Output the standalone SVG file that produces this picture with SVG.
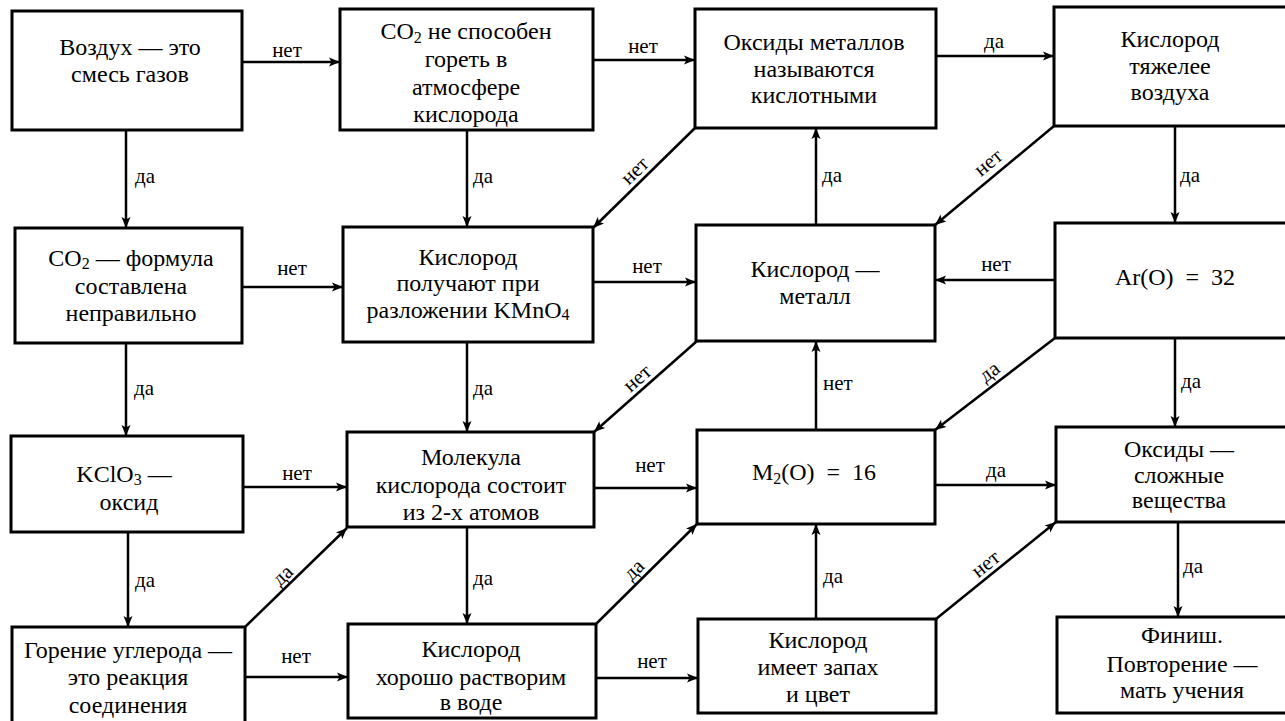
<svg xmlns="http://www.w3.org/2000/svg" width="1285" height="721" viewBox="0 0 1285 721">
<style>
.box{fill:#fff;stroke:#000;stroke-width:3}
.t{font-size:24px;fill:#000;text-anchor:middle}
.lb{font-size:21px;fill:#000}
.lm{text-anchor:middle}
.c{stroke:#000;stroke-width:2.5;fill:none;marker-end:url(#ah)}
.sub{font-size:16px}
</style>
<defs>
<marker id="ah" viewBox="-1 -6 13 12" markerUnits="userSpaceOnUse" markerWidth="13" markerHeight="12" refX="11" refY="0" orient="auto">
<path d="M0,-4.5 L11,0 L0,4.5 L2.5,0 z" fill="#000"/>
</marker>
</defs>
<rect width="1285" height="721" fill="#fff"/>
<g font-family="Liberation Serif, Times New Roman, Times, DejaVu Serif, serif">
<g id="connectors">
<line class="c" x1="242" y1="62" x2="340" y2="62"/>
<line class="c" x1="593" y1="60" x2="695" y2="60"/>
<line class="c" x1="936" y1="56" x2="1054" y2="56"/>
<line class="c" x1="242" y1="287" x2="343" y2="287"/>
<line class="c" x1="593" y1="282" x2="696" y2="282"/>
<line class="c" x1="1055" y1="280" x2="935" y2="280"/>
<line class="c" x1="243" y1="487" x2="347" y2="487"/>
<line class="c" x1="594" y1="488" x2="697" y2="488"/>
<line class="c" x1="935" y1="485" x2="1056" y2="485"/>
<line class="c" x1="245" y1="677" x2="348" y2="677"/>
<line class="c" x1="596" y1="678" x2="698" y2="678"/>

<line class="c" x1="126" y1="130" x2="126" y2="228"/>
<line class="c" x1="467" y1="130" x2="467" y2="227"/>
<line class="c" x1="816" y1="225" x2="816" y2="128"/>
<line class="c" x1="1175" y1="126" x2="1175" y2="223"/>
<line class="c" x1="126" y1="343" x2="126" y2="436"/>
<line class="c" x1="467" y1="342" x2="467" y2="432"/>
<line class="c" x1="816" y1="430" x2="816" y2="341"/>
<line class="c" x1="1175" y1="338" x2="1175" y2="427"/>
<line class="c" x1="128" y1="532" x2="128" y2="627"/>
<line class="c" x1="467" y1="527" x2="467" y2="624"/>
<line class="c" x1="816" y1="619" x2="816" y2="524"/>
<line class="c" x1="1178" y1="522" x2="1178" y2="617"/>

<line class="c" x1="695" y1="128" x2="593" y2="228"/>
<line class="c" x1="1054" y1="126" x2="935" y2="225"/>
<line class="c" x1="697" y1="341" x2="594" y2="432"/>
<line class="c" x1="1055" y1="338" x2="935" y2="430"/>
<line class="c" x1="245" y1="627" x2="347" y2="528"/>
<line class="c" x1="596" y1="624" x2="697" y2="524"/>
<line class="c" x1="936" y1="619" x2="1056" y2="522"/>

<g id="labels">
<text class="lb lm" x="287" y="57">нет</text>
<text class="lb lm" x="643" y="53">нет</text>
<text class="lb lm" x="994" y="48">да</text>
<text class="lb lm" x="292" y="275">нет</text>
<text class="lb lm" x="647" y="273">нет</text>
<text class="lb lm" x="996" y="271">нет</text>
<text class="lb lm" x="297" y="480">нет</text>
<text class="lb lm" x="650" y="472">нет</text>
<text class="lb lm" x="996" y="477">да</text>
<text class="lb lm" x="296" y="663">нет</text>
<text class="lb lm" x="652" y="668">нет</text>

<text class="lb" x="135" y="183">да</text>
<text class="lb" x="473" y="183">да</text>
<text class="lb" x="822" y="182">да</text>
<text class="lb" x="1180" y="182">да</text>
<text class="lb" x="134" y="395">да</text>
<text class="lb" x="473" y="395">да</text>
<text class="lb" x="823" y="390">нет</text>
<text class="lb" x="1181" y="388">да</text>
<text class="lb" x="135" y="587">да</text>
<text class="lb" x="473" y="585">да</text>
<text class="lb" x="823" y="583">да</text>
<text class="lb" x="1183" y="573">да</text>

<text class="lb lm" transform="translate(643,179) rotate(-44.4)" y="-5">нет</text>
<text class="lb lm" transform="translate(997,173) rotate(-39.8)" y="-7">нет</text>
<text class="lb lm" transform="translate(645,387) rotate(-41.5)" y="-5">нет</text>
<text class="lb lm" transform="translate(997,382) rotate(-37.5)" y="-6">да</text>
<text class="lb lm" transform="translate(290,583) rotate(-44.1)" y="-4">да</text>
<text class="lb lm" transform="translate(642,578) rotate(-44.7)" y="-5">да</text>
<text class="lb lm" transform="translate(993,573) rotate(-38.9)" y="-5">нет</text>
</g>
</g>

<g id="n-air">
<rect class="box" x="12" y="11" width="230" height="119"/>
<text class="t" x="130" y="55">Воздух — это</text>
<text class="t" x="130" y="82">смесь газов</text>
</g>
<g id="n-co2-burn">
<rect class="box" x="340" y="9" width="253" height="121"/>
<text class="t" x="466" y="39">CO<tspan class="sub" baseline-shift="-4">2</tspan> не способен</text>
<text class="t" x="466" y="67">гореть в</text>
<text class="t" x="466" y="95">атмосфере</text>
<text class="t" x="466" y="122">кислорода</text>
</g>
<g id="n-metal-oxides">
<rect class="box" x="695" y="9" width="241" height="119"/>
<text class="t" x="814" y="50">Оксиды металлов</text>
<text class="t" x="814" y="77">называются</text>
<text class="t" x="814" y="103">кислотными</text>
</g>
<g id="n-heavier">
<rect class="box" x="1054" y="7" width="240" height="119"/>
<text class="t" x="1170" y="47">Кислород</text>
<text class="t" x="1170" y="74">тяжелее</text>
<text class="t" x="1170" y="100">воздуха</text>
</g>

<g id="n-co2-formula">
<rect class="box" x="15" y="228" width="227" height="115"/>
<text class="t" x="131" y="266">CO<tspan class="sub" baseline-shift="-3">2</tspan> — формула</text>
<text class="t" x="131" y="294">составлена</text>
<text class="t" x="131" y="321">неправильно</text>
</g>
<g id="n-kmno4">
<rect class="box" x="343" y="227" width="250" height="115"/>
<text class="t" x="468" y="265">Кислород</text>
<text class="t" x="468" y="291">получают при</text>
<text class="t" x="468" y="318">разложении KMnO<tspan class="sub" baseline-shift="-2">4</tspan></text>
</g>
<g id="n-metal">
<rect class="box" x="696" y="225" width="239" height="116"/>
<text class="t" x="815" y="277">Кислород —</text>
<text class="t" x="815" y="304">металл</text>
</g>
<g id="n-ar">
<rect class="box" x="1055" y="223" width="240" height="115"/>
<text class="t" x="1175" y="285" xml:space="preserve">Ar(O)  =  32</text>
</g>

<g id="n-kclo3">
<rect class="box" x="11" y="436" width="232" height="96"/>
<text class="t" x="124" y="482">KClO<tspan class="sub" baseline-shift="-3">3</tspan> —</text>
<text class="t" x="129" y="510">оксид</text>
</g>
<g id="n-molecule">
<rect class="box" x="347" y="432" width="247" height="95"/>
<text class="t" x="471" y="465">Молекула</text>
<text class="t" x="471" y="493">кислорода состоит</text>
<text class="t" x="471" y="520">из 2-х атомов</text>
</g>
<g id="n-m16">
<rect class="box" x="697" y="430" width="238" height="94"/>
<text class="t" x="814" y="480" xml:space="preserve">M<tspan class="sub" baseline-shift="-4">2</tspan>(O)  =  16</text>
</g>
<g id="n-complex">
<rect class="box" x="1056" y="427" width="240" height="95"/>
<text class="t" x="1179" y="457">Оксиды —</text>
<text class="t" x="1179" y="483">сложные</text>
<text class="t" x="1179" y="508">вещества</text>
</g>

<g id="n-carbon">
<rect class="box" x="12" y="627" width="233" height="100"/>
<text class="t" x="128" y="658">Горение углерода —</text>
<text class="t" x="128" y="685">это реакция</text>
<text class="t" x="128" y="713">соединения</text>
</g>
<g id="n-soluble">
<rect class="box" x="348" y="624" width="248" height="94"/>
<text class="t" x="471" y="657">Кислород</text>
<text class="t" x="471" y="685">хорошо растворим</text>
<text class="t" x="471" y="710">в воде</text>
</g>
<g id="n-smell">
<rect class="box" x="698" y="619" width="238" height="94"/>
<text class="t" x="818" y="648">Кислород</text>
<text class="t" x="818" y="675">имеет запах</text>
<text class="t" x="818" y="702">и цвет</text>
</g>
<g id="n-finish">
<rect class="box" x="1057" y="617" width="240" height="96"/>
<text class="t" x="1182" y="643">Финиш.</text>
<text class="t" x="1182" y="672">Повторение —</text>
<text class="t" x="1182" y="698">мать учения</text>
</g>
</g>
</svg>
